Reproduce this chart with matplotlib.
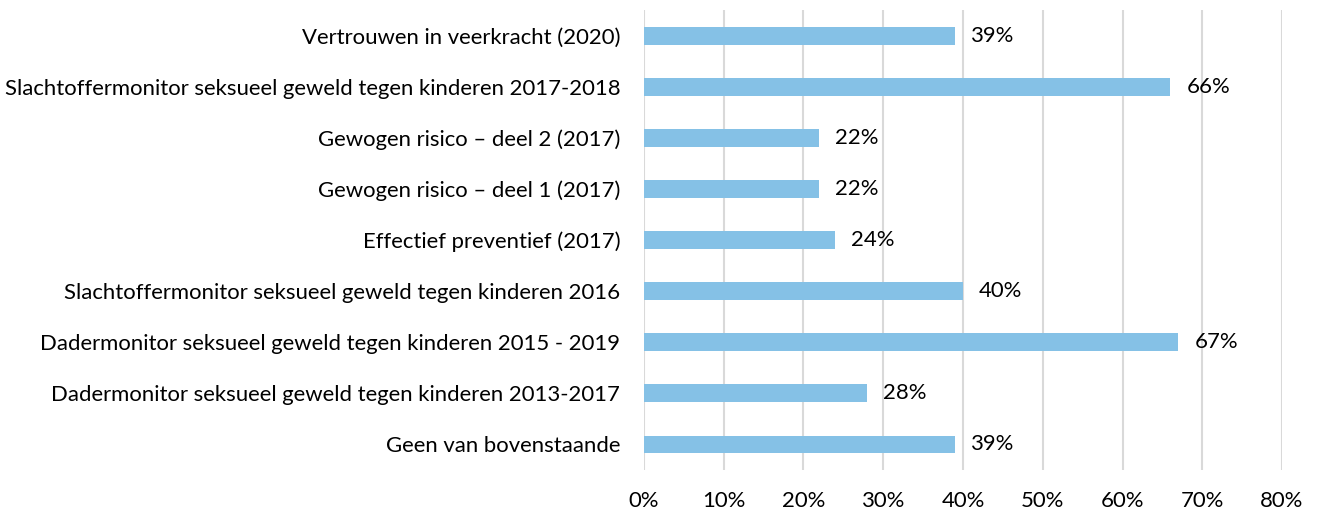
import numpy as np
import matplotlib
matplotlib.use('Agg')
import matplotlib.pyplot as plt
from matplotlib.ticker import PercentFormatter

plt.rcParams['font.family'] = ['Lato', 'DejaVu Sans']

# categories from bottom to top
labels = ['Geen van bovenstaande',
          'Dadermonitor seksueel geweld tegen kinderen 2013-2017',
          'Dadermonitor seksueel geweld tegen kinderen 2015 - 2019',
          'Slachtoffermonitor seksueel geweld tegen kinderen 2016',
          'Effectief preventief (2017)',
          'Gewogen risico \u2013 deel 1 (2017)',
          'Gewogen risico \u2013 deel 2 (2017)',
          'Slachtoffermonitor seksueel geweld tegen kinderen 2017-2018',
          'Vertrouwen in veerkracht (2020)']
values = [39, 28, 67, 40, 24, 22, 22, 66, 39]
xticks = [0, 10, 20, 30, 40, 50, 60, 70, 80]

fig = plt.figure(figsize=(13.18, 5.12), dpi=100)
ax = fig.add_axes([0.4886, 0.082, 0.4841, 0.898])

y = np.arange(len(labels))
ax.barh(y, values, height=0.35, color='#85C1E6', zorder=3)

for yi, v in zip(y, values):
    ax.text(v + 2, yi, f'{v}%', va='center', ha='left', fontsize=15.9, color='#000000')

ax.set_xlim(0, 80)
ax.set_ylim(-0.5, len(labels) - 0.5)
ax.set_xticks(xticks)
ax.xaxis.set_major_formatter(PercentFormatter(decimals=0))
ax.set_yticks(y)
ax.set_yticklabels(labels)
ax.tick_params(axis='both', length=0, labelsize=15.9, colors='#000000')
ax.tick_params(axis='x', pad=15)
ax.tick_params(axis='y', pad=17)
ax.grid(axis='x', color='#D9D9D9', linewidth=1.5, zorder=0)
for s in ax.spines.values():
    s.set_visible(False)

plt.savefig('out.png', dpi=100)
